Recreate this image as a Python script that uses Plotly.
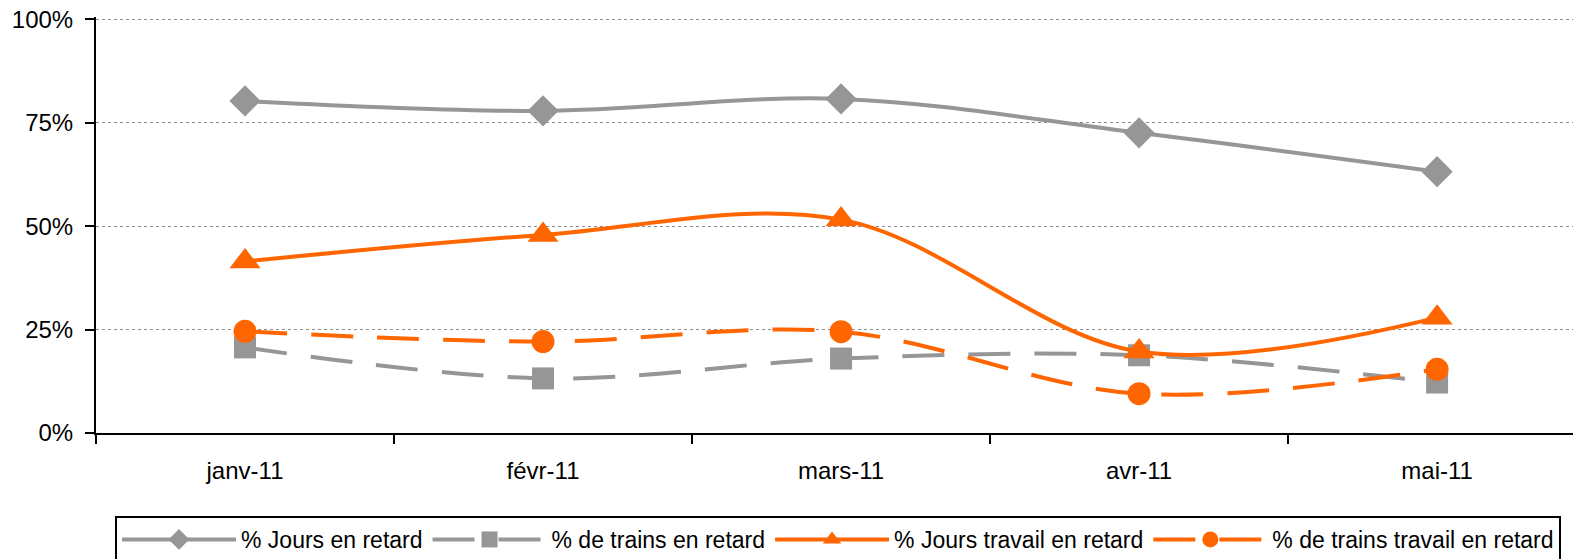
import plotly.graph_objects as go

months = ["janv-11", "févr-11", "mars-11", "avr-11", "mai-11"]
jours_retard = [0.803, 0.779, 0.808, 0.726, 0.632]
trains_retard = [0.207, 0.132, 0.180, 0.188, 0.122]
jours_travail = [0.415, 0.479, 0.516, 0.197, 0.279]
trains_travail = [0.246, 0.221, 0.245, 0.095, 0.154]

GRAY = "#969696"
ORANGE = "#FF6600"
FONT = "Liberation Sans, Arial, sans-serif"
SMOOTH = 1.0

fig = go.Figure()
fig.add_trace(go.Scatter(
    x=months, y=jours_retard, name="% Jours en retard", mode="lines+markers",
    line=dict(color=GRAY, width=4, shape="spline", smoothing=SMOOTH),
    marker=dict(symbol="diamond", size=24, color=GRAY)))
fig.add_trace(go.Scatter(
    x=months, y=trains_retard, name="% de trains en retard", mode="lines+markers",
    line=dict(color=GRAY, width=4, shape="spline", smoothing=SMOOTH, dash="42px,24px"),
    marker=dict(symbol="square", size=22, color=GRAY)))
fig.add_trace(go.Scatter(
    x=months, y=jours_travail, name="% Jours travail en retard", mode="lines+markers",
    line=dict(color=ORANGE, width=4, shape="spline", smoothing=SMOOTH),
    marker=dict(symbol="triangle-up", size=27, color=ORANGE)))
fig.add_trace(go.Scatter(
    x=months, y=trains_travail, name="% de trains travail en retard", mode="lines+markers",
    line=dict(color=ORANGE, width=4, shape="spline", smoothing=SMOOTH, dash="42px,24px"),
    marker=dict(symbol="circle", size=23, color=ORANGE)))

fig.update_layout(
    width=1573, height=559, autosize=False,
    margin=dict(l=96, r=0, t=17, b=126, pad=0),
    paper_bgcolor="white", plot_bgcolor="white",
    font=dict(family=FONT, size=24, color="black"),
    showlegend=True,
    legend=dict(
        orientation="h", xref="container", yref="container",
        x=115 / 1573, xanchor="left", y=1 - 516 / 559, yanchor="top",
        bordercolor="black", borderwidth=2, bgcolor="white",
        font=dict(family=FONT, size=23, color="black"),
        itemwidth=114, tracegroupgap=0,
    ),
)
fig.update_xaxes(
    type="category", range=[-0.5, 4.456], tickson="boundaries",
    showline=True, linecolor="black", linewidth=2,
    ticks="outside", ticklen=9, tickwidth=2, tickcolor="black",
    showgrid=False, zeroline=False, ticklabelstandoff=15, automargin=False,
)
fig.update_yaxes(
    range=[0, 1.006], tickvals=[0, 0.25, 0.5, 0.75, 1.0], tickformat=".0%",
    showline=True, linecolor="black", linewidth=2,
    ticks="outside", ticklen=9, tickwidth=2, tickcolor="black",
    showgrid=True, gridcolor="#8c8c8c", gridwidth=1, griddash="dot",
    zeroline=False, ticklabelstandoff=7, automargin=False,
)

fig.write_html(
    "out.html",
    config={"displayModeBar": False},
    post_script="document.body.style.margin='0';document.body.style.padding='0';",
)
